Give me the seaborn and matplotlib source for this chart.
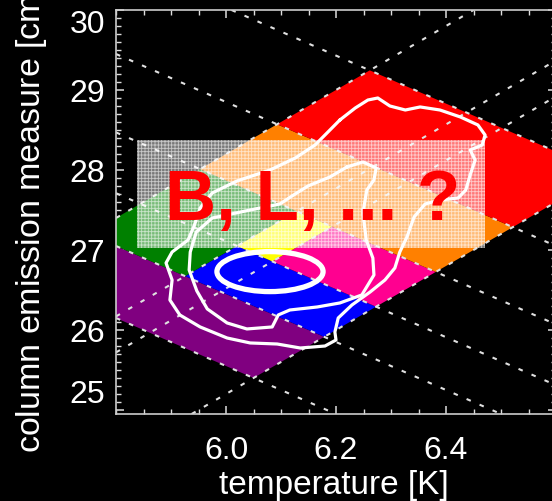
import numpy as np
import pandas as pd
import matplotlib
matplotlib.use("Agg")
import matplotlib.pyplot as plt
from matplotlib.patches import Polygon, Rectangle, Ellipse
from matplotlib.ticker import MultipleLocator
import seaborn as sns

# ---------------- data ----------------
# grid lines: log EM = 4 log T + a  (rising)   and   log EM = -3 log T + b (falling)
slope_rise = 4.0
slope_fall = -3.0
a_lines = [1.2, 2.52, 2.97, 4.2]
b_lines = [43.55, 44.45, 45.11, 45.87, 46.85, 48.03]

region_names = ["purple", "blue", "green", "pink", "yellow", "orange", "red"]
region_colors = ["#800080", "#0000ff", "#008000", "#ff0090", "#ffff00", "#ff8000", "#ff0000"]
region_a_lo = [1.2, 1.2, 2.97, 1.2, 2.52, 1.2, 1.2]
region_a_hi = [4.2, 2.97, 4.2, 2.52, 2.97, 4.2, 4.2]
region_b_lo = [43.55, 44.45, 44.45, 45.11, 45.11, 45.87, 46.85]
region_b_hi = [44.45, 45.11, 45.87, 45.87, 45.87, 46.85, 48.03]

outer_T = [6.207, 6.235, 6.258, 6.276, 6.298, 6.326, 6.353, 6.389, 6.426, 6.458,
           6.471, 6.466, 6.444, 6.453, 6.444, 6.436, 6.422, 6.389, 6.362, 6.342,
           6.329, 6.316, 6.307, 6.289, 6.262, 6.229, 6.204, 6.198, 6.200, 6.180,
           6.135, 6.093, 6.044, 6.002, 5.953, 5.916, 5.898, 5.902, 5.891, 5.902,
           5.931, 5.942, 5.953, 5.975, 6.020, 6.080, 6.126, 6.162, 6.189]
outer_EM = [28.625, 28.775, 28.875, 28.900, 28.800, 28.750, 28.788, 28.750, 28.663, 28.563,
            28.438, 28.313, 28.250, 28.125, 27.938, 27.750, 27.650, 27.625, 27.575, 27.413,
            27.163, 26.975, 26.775, 26.625, 26.475, 26.313, 26.150, 25.975, 25.875, 25.800,
            25.775, 25.825, 25.838, 25.900, 26.038, 26.188, 26.375, 26.625, 26.838, 26.975,
            27.125, 27.300, 27.525, 27.713, 27.863, 28.000, 28.150, 28.313, 28.500]

middle_T = [6.220, 6.249, 6.273, 6.269, 6.256, 6.249, 6.255, 6.267, 6.269, 6.247,
            6.207, 6.166, 6.116, 6.095, 6.084, 6.038, 6.002, 5.966, 5.947, 5.933,
            5.935, 5.946, 5.975, 6.044, 6.098, 6.120, 6.149, 6.189]
middle_EM = [28.038, 28.100, 28.025, 27.875, 27.750, 27.463, 27.125, 26.900, 26.688, 26.438,
             26.338, 26.288, 26.250, 26.188, 26.038, 26.013, 26.088, 26.263, 26.488, 26.750,
             26.975, 27.225, 27.400, 27.500, 27.575, 27.675, 27.800, 27.913]

core_T, core_EM = 6.08, 26.73
core_width_T, core_height_EM = 0.193, 0.50

x_ticks = [6.0, 6.2, 6.4]
x_tick_labels = ["6.0", "6.2", "6.4"]
y_ticks = [25, 26, 27, 28, 29, 30]
y_tick_labels = ["25", "26", "27", "28", "29", "30"]
overlay_text = "B, L, ... ?"
x_label = "temperature [K]"
y_label = "column emission measure [cm$^{-5}$]"

# ---------------- style ----------------
sns.set_theme(style="ticks", rc={"axes.facecolor": "black", "figure.facecolor": "black"})
plt.rcParams["font.family"] = ["Liberation Sans", "DejaVu Sans"]
plt.rcParams["hatch.linewidth"] = 0.6

fig = plt.figure(figsize=(5.52, 5.01), dpi=100, facecolor="black")
ax = fig.add_axes([116 / 552, 87 / 501, 440 / 552, 404 / 501])
ax.set_facecolor("black")
ax.set_xlim(5.8, 6.6)
ax.set_ylim(24.95, 30)


def corner(a, b):
    x = (b - a) / (slope_rise - slope_fall)
    return x, slope_rise * x + a


regions = pd.DataFrame({"name": region_names, "color": region_colors,
                        "a_lo": region_a_lo, "a_hi": region_a_hi,
                        "b_lo": region_b_lo, "b_hi": region_b_hi})
for _, r in regions.iterrows():
    pts = [corner(r.a_lo, r.b_lo), corner(r.a_lo, r.b_hi),
           corner(r.a_hi, r.b_hi), corner(r.a_hi, r.b_lo)]
    ax.add_patch(Polygon(pts, closed=True, fc=r.color, ec="none", zorder=1))

dash = (0, (2.2, 4.6))
for a in a_lines:
    ax.axline((0.0, a), slope=slope_rise, color="#e0e0e0", lw=1.5, ls=dash, zorder=2)
for b in b_lines:
    ax.axline((0.0, b), slope=slope_fall, color="#e0e0e0", lw=1.5, ls=dash, zorder=2)

# translucent overlay box
bx0, bx1, by0, by1 = 5.838, 6.471, 27.025, 28.375
ax.add_patch(Rectangle((bx0, by0), bx1 - bx0, by1 - by0, fc=(1, 1, 1, 0.48), ec="none", zorder=3))
ax.add_patch(Rectangle((bx0, by0), bx1 - bx0, by1 - by0, fill=False, hatch="+++++",
                       ec=(1, 1, 1, 0.6), lw=0, zorder=3))

# contours
outer = pd.DataFrame({"T": outer_T + outer_T[:1], "EM": outer_EM + outer_EM[:1]})
middle = pd.DataFrame({"T": middle_T + middle_T[:1], "EM": middle_EM + middle_EM[:1]})
sns.lineplot(data=outer, x="T", y="EM", sort=False, estimator=None, color="white",
             lw=2.3, ax=ax, zorder=4, solid_joinstyle="round")
sns.lineplot(data=middle, x="T", y="EM", sort=False, estimator=None, color="white",
             lw=2.3, ax=ax, zorder=4, solid_joinstyle="round")
ax.add_patch(Ellipse((core_T, core_EM), core_width_T, core_height_EM, fill=False,
                     ec="white", lw=3.8, zorder=4))

ax.text(6.157, 27.375, overlay_text, color="#ff0000", fontsize=51, fontweight="bold",
        ha="center", va="baseline", zorder=6)

# axes styling
for s in ax.spines.values():
    s.set_color("#cccccc")
    s.set_linewidth(1.2)
ax.set_xticks(x_ticks)
ax.set_xticklabels(x_tick_labels)
ax.set_yticks(y_ticks)
ax.set_yticklabels(y_tick_labels)
ax.xaxis.set_minor_locator(MultipleLocator(0.05))
ax.yaxis.set_minor_locator(MultipleLocator(0.1))
ax.tick_params(which="both", direction="in", top=True, right=True, colors="#dddddd",
               labelcolor="white", labelsize=23)
ax.tick_params(which="major", length=6, width=1.1)
ax.tick_params(which="minor", length=3.5, width=1.0)
ax.tick_params(axis="x", which="major", pad=16)
ax.tick_params(axis="y", which="major", pad=8)
yt = ax.yaxis.get_major_ticks()
yt[-1].label1.set_va("top")
yt[0].label1.set_va("bottom")

ax.set_xlabel(x_label, fontsize=24, color="white")
ax.xaxis.set_label_coords(0.495, -0.138)
ax.set_ylabel(y_label, fontsize=24.5, color="white", ha="left")
ax.yaxis.set_label_coords(-0.15, -0.0965)

fig.savefig("out.png", dpi=100, facecolor="black")
